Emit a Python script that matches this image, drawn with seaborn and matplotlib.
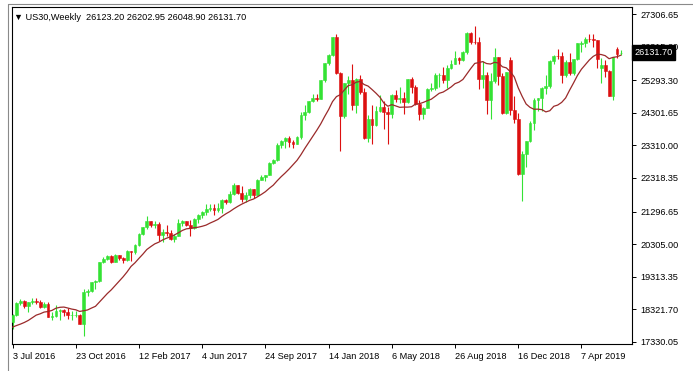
import matplotlib
matplotlib.use("Agg")
import matplotlib.pyplot as plt
from matplotlib.lines import Line2D
import matplotlib.transforms as mtransforms
import seaborn as sns
import pandas as pd
import numpy as np

symbol_info = "\u25bc US30,Weekly  26123.20 26202.95 26048.90 26131.70"

# 12 weekly closes before the first visible bar (for the 13 period MA)
prior_close = [17897, 18003, 17773, 17740, 17535, 17500, 17873, 17807, 17865, 17675, 17400, 17949]

# weekly bars, 3 Jul 2016 .. 16 Jun 2019
opens = [
    17949, 18146, 18516, 18570, 18432, 18543, 18576, 18552, 18395, 18491,
    18085, 18123, 18261, 18308, 18240, 18138, 18145, 18161, 17888, 18847,
    18868, 19152, 19171, 19757, 19843, 19934, 19763, 19964, 19886, 19827,
    20094, 20071, 20269, 20624, 20822, 21006, 20903, 20915, 20597, 20663,
    20656, 20453, 20548, 20941, 21007, 20897, 20805, 21080, 21206, 21272,
    21384, 21395, 21350, 21414, 21638, 21580, 21830, 22092, 21858, 21675,
    21814, 21988, 21798, 22268, 22350, 22405, 22774, 22872, 23329, 23434,
    23539, 23422, 23358, 23558, 24232, 24329, 24652, 24754, 24719, 25296,
    25803, 26072, 26617, 25521, 24191, 25219, 25310, 24538, 25336, 24946,
    23533, 24103, 23933, 24360, 24463, 24311, 24263, 24831, 24715, 24753,
    24635, 25317, 25090, 24580, 24271, 24456, 25019, 25058, 25451, 25463,
    25313, 25669, 25790, 25965, 25917, 26155, 26744, 26458, 26447, 25340,
    25444, 24689, 25271, 25989, 25413, 24286, 25900, 24389, 24101, 22445,
    23062, 23433, 23996, 24706, 24737, 25064, 25106, 25883, 26031, 26026,
    25450, 25849, 25502, 25929, 26400, 26440, 26560, 26543, 26505, 25650,
    25764, 25586, 24815, 26240, 26123.20,
]
highs = [
    18166, 18537, 18622, 18605, 18558, 18668, 18668, 18600, 18549, 18552,
    18241, 18450, 18339, 18318, 18370, 18257, 18274, 18173, 18934, 18935,
    19152, 19225, 19757, 19912, 19988, 19981, 19999, 19973, 19905, 20125,
    20100, 20298, 20639, 20840, 21169, 21010, 21000, 20978, 20756, 20887,
    20733, 20609, 21070, 21035, 21018, 21033, 21113, 21225, 21305, 21535,
    21535, 21529, 21562, 21681, 21681, 21929, 22179, 22118, 22085, 21900,
    22000, 21990, 22275, 22419, 22415, 22800, 22905, 23368, 23485, 23557,
    23602, 23461, 23602, 24327, 24534, 24669, 24876, 24872, 25299, 25803,
    26086, 26617, 26700, 25540, 25220, 25433, 25800, 25370, 25449, 25044,
    24225, 24540, 24513, 24858, 24650, 24485, 24883, 25000, 25086, 24935,
    25327, 25402, 25160, 24686, 24480, 25050, 25215, 25500, 25500, 25692,
    25746, 25900, 26167, 26004, 26170, 26769, 26770, 26951, 26600, 25880,
    25550, 25500, 26277, 26000, 25500, 25538, 25990, 24800, 24300, 23138,
    23450, 24063, 24750, 24750, 25100, 25440, 25900, 26060, 26240, 26156,
    25900, 26110, 25950, 26430, 26480, 26600, 26695, 26700, 26510, 25960,
    25900, 25600, 26000, 26300, 26202.95,
]
lows = [
    17713, 18134, 18459, 18366, 18242, 18483, 18481, 18362, 18362, 18080,
    17992, 18096, 18012, 18121, 18029, 17997, 18092, 17884, 17500, 18735,
    18860, 18950, 19140, 19720, 19820, 19718, 19763, 19834, 19732, 19798,
    19784, 19994, 20262, 20595, 20766, 20837, 20801, 20412, 20379, 20567,
    20440, 20379, 20548, 20872, 20862, 20553, 20780, 20950, 21106, 21199,
    21316, 21197, 21295, 21255, 21530, 21551, 21790, 21844, 21600, 21600,
    21705, 21709, 21798, 22263, 22214, 22405, 22741, 22838, 23242, 23242,
    23251, 23242, 23358, 23515, 24068, 24285, 24631, 24660, 24719, 25233,
    25763, 26036, 25490, 23150, 24150, 24884, 24377, 24290, 24873, 23509,
    23420, 23344, 23887, 24320, 23823, 23344, 24129, 24619, 24592, 24252,
    24600, 24891, 24546, 24084, 24124, 24456, 24950, 24980, 25100, 25222,
    25042, 25620, 25780, 25800, 25890, 26100, 26405, 26400, 25030, 25050,
    24268, 24122, 25200, 25150, 24270, 24270, 24242, 24000, 22396, 21620,
    22638, 23400, 23780, 24350, 24350, 24880, 25050, 25800, 25940, 25210,
    25390, 25450, 25450, 25900, 26150, 26290, 26460, 26300, 25650, 25220,
    25400, 24800, 24680, 25960, 26048.90,
]
closes = [
    18146, 18516, 18570, 18432, 18543, 18576, 18552, 18395, 18491, 18085,
    18123, 18261, 18308, 18240, 18138, 18145, 18161, 17888, 18847, 18868,
    19152, 19171, 19757, 19843, 19934, 19763, 19964, 19886, 19827, 20094,
    20071, 20269, 20624, 20822, 21006, 20903, 20915, 20597, 20663, 20656,
    20453, 20548, 20941, 21007, 20897, 20805, 21080, 21206, 21272, 21384,
    21395, 21350, 21414, 21638, 21580, 21830, 22092, 21858, 21675, 21814,
    21988, 21798, 22268, 22350, 22405, 22774, 22872, 23329, 23434, 23539,
    23422, 23358, 23558, 24232, 24329, 24652, 24754, 24719, 25296, 25803,
    26072, 26617, 25521, 24191, 25219, 25310, 24538, 25336, 24946, 23533,
    24103, 23933, 24360, 24463, 24311, 24263, 24831, 24715, 24753, 24635,
    25317, 25090, 24580, 24271, 24456, 25019, 25058, 25451, 25463, 25313,
    25669, 25790, 25965, 25917, 26155, 26744, 26458, 26447, 25340, 25444,
    24689, 25271, 25989, 25413, 24286, 25538, 24389, 24101, 22445, 23062,
    23433, 23996, 24706, 24737, 25064, 25106, 25883, 26031, 26026, 25450,
    25849, 25502, 25929, 26425, 26440, 26560, 26543, 26505, 25942, 25764,
    25586, 24815, 25984, 26090, 26131.70,
]

date_labels = ["3 Jul 2016", "23 Oct 2016", "12 Feb 2017", "4 Jun 2017", "24 Sep 2017",
               "14 Jan 2018", "6 May 2018", "26 Aug 2018", "16 Dec 2018", "7 Apr 2019"]
date_bars = [0, 16, 32, 48, 64, 80, 96, 112, 128, 144]

price_ticks = [27306.65, 26315.00, 25293.30, 24301.65, 23310.00, 22318.35,
               21296.65, 20305.00, 19313.35, 18321.70, 17330.05]

ma_period = 13

bull = "#34e234"
bear = "#dc1010"
ma_color = "#9a2a2a"

df = pd.DataFrame({"open": opens, "high": highs, "low": lows, "close": closes})
df["bar"] = np.arange(len(df))
all_close = pd.Series(prior_close + closes)
df["ma"] = all_close.rolling(ma_period).mean().iloc[len(prior_close):].to_numpy()
df["color"] = np.where(df["close"] >= df["open"], bull, bear)

sns.set_theme(style="white")
plt.rcParams["font.family"] = ["Liberation Sans", "DejaVu Sans"]
fs = 6.6

fig = plt.figure(figsize=(6.93, 3.71), dpi=100)
ax = fig.add_axes([12 / 693, 27 / 371, 620 / 693, 337 / 371])

ax.vlines(df["bar"], df["low"], df["high"], colors=df["color"], linewidth=0.8, zorder=2)
ax.bar(df["bar"], df["close"] - df["open"], bottom=df["open"], width=0.72,
       color=df["color"], edgecolor=df["color"], linewidth=0.4, zorder=3)
sns.lineplot(x=df["bar"], y=df["ma"], ax=ax, color=ma_color, linewidth=0.9, zorder=4)

ax.set_xlim(-0.13, 156.8)
ax.set_ylim(17268, 27520)
ax.set_xlabel("")
ax.set_ylabel("")

for s in ax.spines.values():
    s.set_color("black")
    s.set_linewidth(0.8)

ax.yaxis.tick_right()
ax.set_yticks(price_ticks)
ax.set_yticklabels([f"{v:.2f}" for v in price_ticks])
ax.set_xticks(date_bars)
ax.set_xticklabels(date_labels)
for lab in ax.get_xticklabels():
    lab.set_horizontalalignment("left")
ax.tick_params(axis="both", which="major", direction="out", length=3, width=0.7,
               colors="black", labelsize=fs, bottom=True, right=True, left=False)
ax.tick_params(axis="y", pad=3)
ax.tick_params(axis="x", pad=2.5)

ax.text(0.004, 0.983, symbol_info, transform=ax.transAxes, ha="left", va="top",
        fontsize=fs, color="black")

# current price marker on the price scale
trans = mtransforms.blended_transform_factory(ax.transAxes, ax.transData)
ax.text(1.004, closes[-1], f"{closes[-1]:.2f}", transform=trans, ha="left", va="center",
        fontsize=fs, color="white", clip_on=False, zorder=10,
        bbox=dict(boxstyle="square,pad=0.3", facecolor="black", edgecolor="black"))

fig.add_artist(Line2D([8 / 693, 8 / 693], [0, 1 - 4 / 371], transform=fig.transFigure,
                      color="#8a8a8a", linewidth=0.8))
fig.add_artist(Line2D([8 / 693, 1], [1 - 4 / 371, 1 - 4 / 371], transform=fig.transFigure,
                      color="#8a8a8a", linewidth=0.8))

fig.savefig("out.png", dpi=100, facecolor="white")
